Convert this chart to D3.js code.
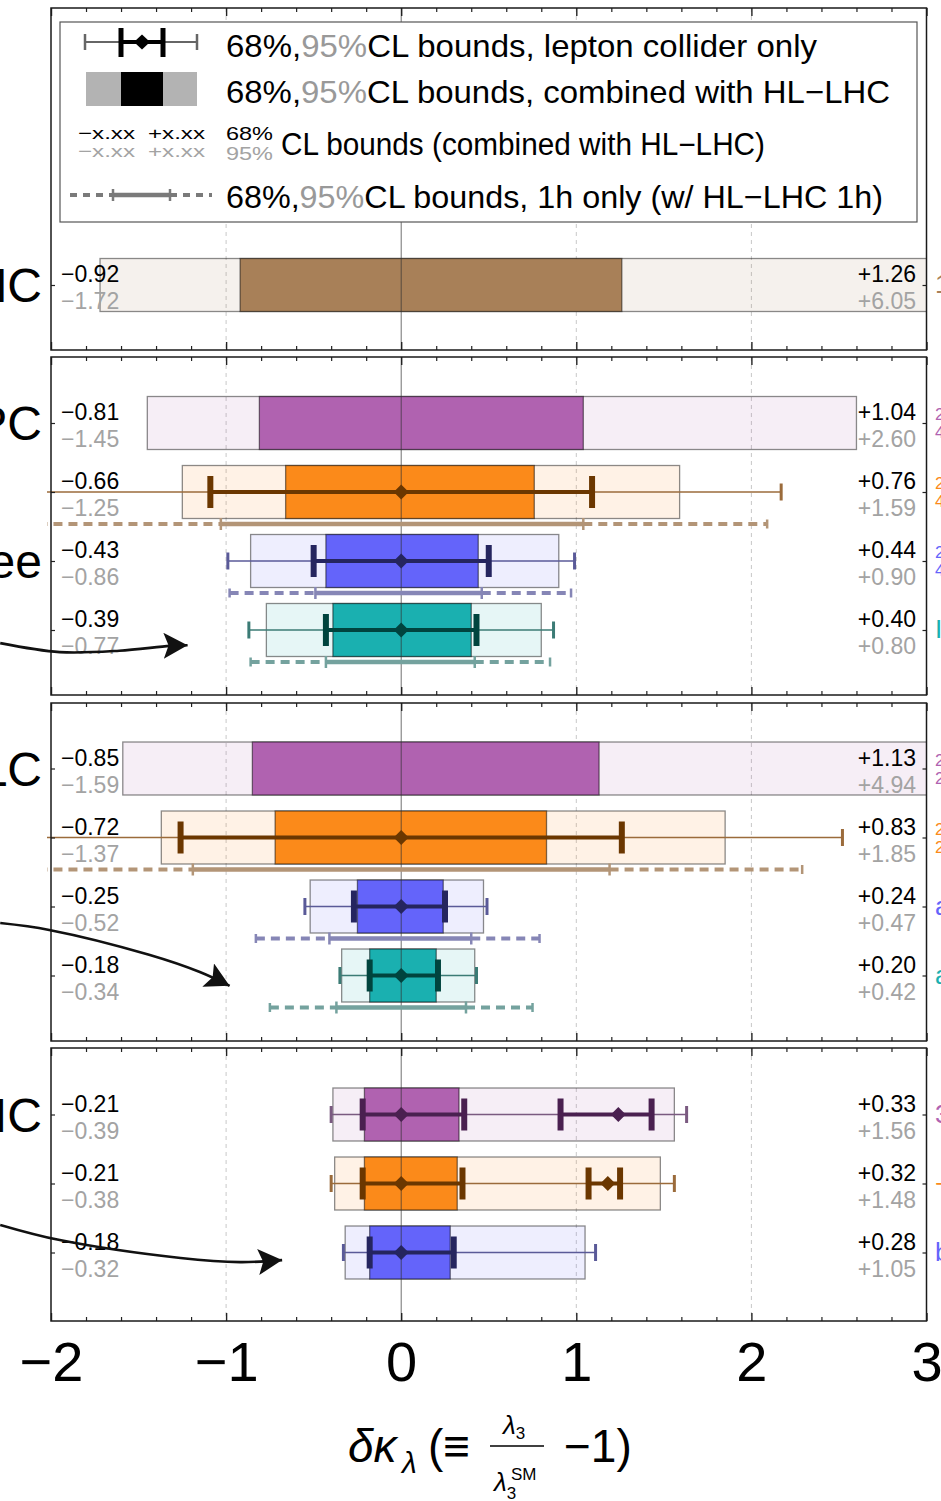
<!DOCTYPE html>
<html>
<head>
<meta charset="utf-8">
<script src="https://cdn.jsdelivr.net/npm/d3@7"></script>
<style>
body { margin: 0; background: #fff; }
svg { display: block; font-family: "Liberation Sans", Arial, sans-serif; }
</style>
</head>
<body>
<svg id="chart"></svg>
<script>
(function () {
var W = 941, H = 1501;

// ---- data ----
var rowPanel = [0, 1, 1, 1, 1, 2, 2, 2, 2, 3, 3, 3];
var rowSlot  = [0, 0, 1, 2, 3, 0, 1, 2, 3, 0, 1, 2];
var rowColor = ["brown", "purple", "orange", "blue", "teal", "purple", "orange", "blue", "teal", "purple", "orange", "blue"];

// combined with HL-LHC
var comb95Lo = [-1.72, -1.45, -1.25, -0.86, -0.77, -1.59, -1.37, -0.52, -0.34, -0.39, -0.38, -0.32];
var comb68Lo = [-0.92, -0.81, -0.66, -0.43, -0.39, -0.85, -0.72, -0.25, -0.18, -0.21, -0.21, -0.18];
var comb68Hi = [1.26, 1.04, 0.76, 0.44, 0.40, 1.13, 0.83, 0.24, 0.20, 0.33, 0.32, 0.28];
var comb95Hi = [6.05, 2.60, 1.59, 0.90, 0.80, 4.94, 1.85, 0.47, 0.42, 1.56, 1.48, 1.05];

// lepton collider only
var lep95 = [null, null, [-2.5, 2.17], [-0.99, 0.99], [-0.87, 0.87], null, [-2.5, 2.52], [-0.55, 0.49], [-0.35, 0.43], [-0.40, 1.63], [-0.40, 1.56], [-0.33, 1.11]];
var lep68 = [null, null, [[-1.09, 1.09]], [[-0.50, 0.50]], [[-0.43, 0.43]], null, [[-1.26, 1.26]], [[-0.27, 0.25]], [[-0.18, 0.21]],
             [[-0.22, 0.36], [0.91, 1.43]], [[-0.22, 0.35], [1.07, 1.25]], [[-0.18, 0.30]]];
var lepBest = [null, null, [0], [0], [0], null, [0], [0], [0], [0, 1.24], [0, 1.18], [0]];

// 1h only (95 lo, 68 lo, 68 hi, 95 hi)
var oneH = [null, null, [-2.5, -1.03, 1.04, 2.09], [-0.98, -0.49, 0.46, 0.97], [-0.86, -0.43, 0.42, 0.85], null,
            [-2.5, -1.19, 1.19, 2.29], [-0.83, -0.41, 0.40, 0.79], [-0.75, -0.37, 0.37, 0.75], null, null, null];

var sectionNames = ["HL\u2212LHC", "CEPC", "FCC\u2212ee", "ILC", "CLIC"];
var sectionRow = [0, 1, 3, 5, 9];

var runLabels = [["14TeV, 3ab\u207B\u00B9"], ["240GeV", "4ab\u207B\u00B9"], ["240GeV", "4ab\u207B\u00B9"], ["240GeV", "4ab\u207B\u00B9"], ["I"],
                 ["250GeV", "2ab\u207B\u00B9"], ["250GeV", "2ab\u207B\u00B9"], ["all runs"], ["all runs"],
                 ["380GeV"], ["+1.5TeV"], ["both"]];

var xTicks = [-2, -1, 0, 1, 2, 3];
var gridDashed = [-1, 1, 2];

// annotation arrows, [value, row slot] in panel units
var arrowPanel = [1, 2, 3];
var arrowPts = [
  [[-2.29, 3.19], [-1.95, 3.32], [-1.61, 3.30], [-1.32, 3.23], [-1.22, 3.22]],
  [[-2.29, 2.24], [-2.01, 2.34], [-1.44, 2.70], [-1.15, 2.95], [-0.98, 3.15]],
  [[-2.29, 1.60], [-1.95, 1.82], [-1.26, 2.08], [-0.92, 2.14], [-0.68, 2.11]]
];

// ---- styles ----
var fillCol = { brown: "#a88058", purple: "#b062b0", orange: "#fb8a1a", blue: "#6464fa", teal: "#1ab0b0" };
var errDark = { orange: "#6b3700", blue: "#25255f", teal: "#00443e", purple: "#4a2050" };
var errThin = { orange: "#9b6b3b", blue: "#5a5a98", teal: "#3b7b75", purple: "#7a5a80" };
var oneHCol = { orange: "#b39577", blue: "#8686b6", teal: "#74a29e" };
var grey95 = "#a3a3a3";

var panelBox = [[8, 350], [357, 695], [703, 1041], [1048, 1321]];
var firstRowY = [285, 423, 768.5, 1114.5];
var rowStep = 69, halfBar = 26.5;

var svg = d3.select("#chart").attr("width", W).attr("height", H);

var x = d3.scaleLinear().domain([-2, 3]).range([51, 926.5]);
var yP = firstRowY.map(function (y0) {
  return d3.scaleLinear().domain([0, 1]).range([y0, y0 + rowStep]);
});
function rowY(i) { return yP[rowPanel[i]](rowSlot[i]); }

var defs = svg.append("defs");
defs.append("clipPath").attr("id", "barclip").append("rect")
  .attr("x", x(-2)).attr("y", 0).attr("width", x(3) - x(-2)).attr("height", H);
defs.append("clipPath").attr("id", "lineclip").append("rect")
  .attr("x", x(-2) - 4).attr("y", 0).attr("width", x(3) - x(-2) + 8).attr("height", H);
defs.append("marker").attr("id", "head")
  .attr("markerUnits", "userSpaceOnUse")
  .attr("markerWidth", 26).attr("markerHeight", 28)
  .attr("refX", 24).attr("refY", 13).attr("orient", "auto")
  .append("path").attr("d", "M0,0 L24,13 L0,26 L5,13 z").attr("fill", "#111");

// dashed grid
panelBox.forEach(function (b) {
  svg.append("g").selectAll("line").data(gridDashed).join("line")
    .attr("x1", x).attr("x2", x).attr("y1", b[0]).attr("y2", b[1])
    .attr("stroke", "#c8c8c8").attr("stroke-width", 1).attr("stroke-dasharray", "4,4");
});

// boxes
var rows = d3.range(rowPanel.length);
var barG = svg.append("g").attr("clip-path", "url(#barclip)");
barG.selectAll("rect.light").data(rows).join("rect").attr("class", "light")
  .attr("x", function (i) { return x(comb95Lo[i]); })
  .attr("width", function (i) { return x(Math.min(comb95Hi[i], 3.2)) - x(comb95Lo[i]); })
  .attr("y", function (i) { return rowY(i) - halfBar; })
  .attr("height", halfBar * 2)
  .attr("fill", function (i) { return fillCol[rowColor[i]]; }).attr("fill-opacity", 0.11)
  .attr("stroke", "#000").attr("stroke-opacity", 0.45).attr("stroke-width", 1.3);
barG.selectAll("rect.dark").data(rows).join("rect").attr("class", "dark")
  .attr("x", function (i) { return x(comb68Lo[i]); })
  .attr("width", function (i) { return x(comb68Hi[i]) - x(comb68Lo[i]); })
  .attr("y", function (i) { return rowY(i) - halfBar; })
  .attr("height", halfBar * 2)
  .attr("fill", function (i) { return fillCol[rowColor[i]]; })
  .attr("stroke", "#000").attr("stroke-opacity", 0.5).attr("stroke-width", 1.3);

// zero line
panelBox.forEach(function (b) {
  svg.append("line").attr("x1", x(0)).attr("x2", x(0)).attr("y1", b[0]).attr("y2", b[1])
    .attr("stroke", "#333").attr("stroke-opacity", 0.7).attr("stroke-width", 1);
});

// lepton-only error bars and 1h-only lines
var errG = svg.append("g").attr("clip-path", "url(#lineclip)");
rows.forEach(function (i) {
  var y = rowY(i), c = rowColor[i];
  if (lep95[i]) {
    var lo = lep95[i][0], hi = lep95[i][1];
    errG.append("line").attr("x1", x(lo)).attr("x2", x(hi)).attr("y1", y).attr("y2", y)
      .attr("stroke", errThin[c]).attr("stroke-width", 1.6);
    [lo, hi].forEach(function (v) {
      if (v < -2) return;
      errG.append("line").attr("x1", x(v)).attr("x2", x(v)).attr("y1", y - 8.5).attr("y2", y + 8.5)
        .attr("stroke", errThin[c]).attr("stroke-width", 3);
    });
    lep68[i].forEach(function (seg) {
      errG.append("line").attr("x1", x(seg[0])).attr("x2", x(seg[1])).attr("y1", y).attr("y2", y)
        .attr("stroke", errDark[c]).attr("stroke-width", 4);
      seg.forEach(function (v) {
        errG.append("line").attr("x1", x(v)).attr("x2", x(v)).attr("y1", y - 16).attr("y2", y + 16)
          .attr("stroke", errDark[c]).attr("stroke-width", 6);
      });
    });
    lepBest[i].forEach(function (v) {
      var cx = x(v), s = 7.5;
      errG.append("path").attr("d", "M" + (cx - s) + "," + y + "L" + cx + "," + (y - s) + "L" + (cx + s) + "," + y + "L" + cx + "," + (y + s) + "Z")
        .attr("fill", errDark[c]);
    });
  }
  if (oneH[i]) {
    var h = oneH[i], yy = y + 32, col = oneHCol[c];
    errG.append("line").attr("x1", x(h[0])).attr("x2", x(h[1])).attr("y1", yy).attr("y2", yy)
      .attr("stroke", col).attr("stroke-width", 4).attr("stroke-dasharray", "9,6");
    errG.append("line").attr("x1", x(h[2])).attr("x2", x(h[3])).attr("y1", yy).attr("y2", yy)
      .attr("stroke", col).attr("stroke-width", 4).attr("stroke-dasharray", "9,6");
    errG.append("line").attr("x1", x(h[1])).attr("x2", x(h[2])).attr("y1", yy).attr("y2", yy)
      .attr("stroke", col).attr("stroke-width", 4.5);
    h.forEach(function (v, k) {
      if (v < -2) return;
      var hh = (k === 0 || k === 3) ? 4.5 : 6;
      errG.append("line").attr("x1", x(v)).attr("x2", x(v)).attr("y1", yy - hh).attr("y2", yy + hh)
        .attr("stroke", col).attr("stroke-width", 2.5);
    });
  }
});

// legend
var lg = svg.append("g");
lg.append("rect").attr("x", 60).attr("y", 22).attr("width", 857).attr("height", 200)
  .attr("fill", "#fff").attr("stroke", "#555").attr("stroke-width", 1.2);
lg.append("line").attr("x1", 85).attr("x2", 197).attr("y1", 42).attr("y2", 42).attr("stroke", "#666").attr("stroke-width", 2);
[85, 197].forEach(function (v) {
  lg.append("line").attr("x1", v).attr("x2", v).attr("y1", 34).attr("y2", 50).attr("stroke", "#666").attr("stroke-width", 2.5);
});
lg.append("line").attr("x1", 121).attr("x2", 163).attr("y1", 42).attr("y2", 42).attr("stroke", "#000").attr("stroke-width", 4);
[121, 163].forEach(function (v) {
  lg.append("line").attr("x1", v).attr("x2", v).attr("y1", 28).attr("y2", 57).attr("stroke", "#000").attr("stroke-width", 5);
});
lg.append("path").attr("d", "M134,42L142,34.5L150,42L142,49.5Z").attr("fill", "#000");
lg.append("rect").attr("x", 86).attr("y", 72).attr("width", 111).attr("height", 34).attr("fill", "#b3b3b3");
lg.append("rect").attr("x", 121).attr("y", 72).attr("width", 42).attr("height", 34).attr("fill", "#000");
[["\u2212x.xx", 78], ["+x.xx", 148]].forEach(function (d) {
  lg.append("text").attr("x", d[1]).attr("y", 139).attr("font-size", 17)
    .attr("textLength", 57).attr("lengthAdjust", "spacingAndGlyphs").attr("fill", "#000").text(d[0]);
  lg.append("text").attr("x", d[1]).attr("y", 157).attr("font-size", 17)
    .attr("textLength", 57).attr("lengthAdjust", "spacingAndGlyphs").attr("fill", grey95).text(d[0]);
});
lg.append("text").attr("x", 226).attr("y", 140).attr("font-size", 19)
  .attr("textLength", 47).attr("lengthAdjust", "spacingAndGlyphs").attr("fill", "#000").text("68%");
lg.append("text").attr("x", 226).attr("y", 160).attr("font-size", 19)
  .attr("textLength", 47).attr("lengthAdjust", "spacingAndGlyphs").attr("fill", grey95).text("95%");
lg.append("text").attr("x", 281).attr("y", 155).attr("font-size", 31)
  .attr("textLength", 484).attr("lengthAdjust", "spacingAndGlyphs")
  .text("CL bounds (combined with HL\u2212LHC)");
lg.append("line").attr("x1", 70).attr("x2", 113).attr("y1", 195).attr("y2", 195).attr("stroke", "#7a7a7a").attr("stroke-width", 4).attr("stroke-dasharray", "7,6");
lg.append("line").attr("x1", 170).attr("x2", 212).attr("y1", 195).attr("y2", 195).attr("stroke", "#7a7a7a").attr("stroke-width", 4).attr("stroke-dasharray", "7,6");
lg.append("line").attr("x1", 113).attr("x2", 170).attr("y1", 195).attr("y2", 195).attr("stroke", "#7a7a7a").attr("stroke-width", 4.5);
[113, 170].forEach(function (v) {
  lg.append("line").attr("x1", v).attr("x2", v).attr("y1", 189).attr("y2", 201).attr("stroke", "#7a7a7a").attr("stroke-width", 2.5);
});
[[57, 591, "CL bounds, lepton collider only"], [103, 664, "CL bounds, combined with HL\u2212LHC"], [208, 657, "CL bounds, 1h only (w/ HL\u2212LHC 1h)"]].forEach(function (d) {
  var t = lg.append("text").attr("x", 226).attr("y", d[0]).attr("font-size", 32)
    .attr("textLength", d[1]).attr("lengthAdjust", "spacingAndGlyphs");
  t.append("tspan").text("68%,");
  t.append("tspan").attr("fill", "#999").text("95%");
  t.append("tspan").text(d[2]);
});

// frames and ticks
var minorTicks = d3.range(-2, 3.001, 0.2).filter(function (v) { return Math.abs(v - Math.round(v)) > 1e-6; });
panelBox.forEach(function (b, p) {
  [[d3.axisBottom, b[1], -4], [d3.axisTop, b[0], -4]].forEach(function (a) {
    svg.append("g").attr("transform", "translate(0," + a[1] + ")")
      .call(a[0](x).tickValues(minorTicks).tickSize(a[2]).tickFormat(""))
      .call(function (g) { g.select(".domain").remove(); g.selectAll("line").attr("stroke", "#222").attr("stroke-width", 1.2); });
    svg.append("g").attr("transform", "translate(0," + a[1] + ")")
      .call(a[0](x).tickValues(xTicks).tickSize(a[2] * 2).tickFormat(""))
      .call(function (g) { g.select(".domain").remove(); g.selectAll("line").attr("stroke", "#222").attr("stroke-width", 1.4); });
  });
  var slots = d3.range(rowPanel.filter(function (q) { return q === p; }).length);
  svg.append("g").attr("transform", "translate(" + x(-2) + ",0)")
    .call(d3.axisLeft(yP[p]).tickValues(slots).tickSize(-4).tickFormat(""))
    .call(function (g) { g.select(".domain").remove(); g.selectAll("line").attr("stroke", "#222").attr("stroke-width", 1.2); });
  svg.append("g").attr("transform", "translate(" + x(3) + ",0)")
    .call(d3.axisRight(yP[p]).tickValues(slots).tickSize(-4).tickFormat(""))
    .call(function (g) { g.select(".domain").remove(); g.selectAll("line").attr("stroke", "#222").attr("stroke-width", 1.2); });
  svg.append("rect").attr("x", x(-2)).attr("y", b[0]).attr("width", x(3) - x(-2)).attr("height", b[1] - b[0])
    .attr("fill", "none").attr("stroke", "#1a1a1a").attr("stroke-width", 1.5);
});

// bottom tick labels
svg.append("g").attr("transform", "translate(0," + panelBox[3][1] + ")")
  .call(d3.axisBottom(x).tickValues(xTicks).tickSize(0).tickFormat(d3.format("d")))
  .call(function (g) {
    g.select(".domain").remove();
    g.selectAll("text").attr("font-size", 56).attr("font-family", "Liberation Sans, Arial, sans-serif")
      .attr("fill", "#000").attr("y", 60).attr("dy", 0);
  });

// value labels
var fmt = d3.format("+.2f");
var labG = svg.append("g").attr("font-size", 23);
rows.forEach(function (i) {
  var y = rowY(i);
  labG.append("text").attr("x", 61).attr("y", y - 3).attr("fill", "#000").text(fmt(comb68Lo[i]));
  labG.append("text").attr("x", 61).attr("y", y + 24).attr("fill", grey95).text(fmt(comb95Lo[i]));
  labG.append("text").attr("x", 916).attr("y", y - 3).attr("text-anchor", "end").attr("fill", "#000").text(fmt(comb68Hi[i]));
  labG.append("text").attr("x", 916).attr("y", y + 24).attr("text-anchor", "end").attr("fill", grey95).text(fmt(comb95Hi[i]));
  var rl = runLabels[i];
  rl.forEach(function (s, k) {
    var yy = rl.length === 1 ? y + 8 : y - 3 + k * 18;
    labG.append("text").attr("x", 935).attr("y", yy).attr("font-size", rl.length === 1 ? 26 : 17)
      .attr("fill", fillCol[rowColor[i]]).text(s);
  });
});

// section names (mostly off the left edge)
sectionNames.forEach(function (s, k) {
  svg.append("text").attr("x", 42).attr("y", rowY(sectionRow[k]) + 17).attr("text-anchor", "end")
    .attr("font-size", 48).attr("fill", "#000").text(s);
});

// axis title
var tg = svg.append("g").attr("fill", "#000");
tg.append("text").attr("x", 348).attr("y", 1462).attr("font-size", 46).attr("font-style", "italic").text("\u03B4\u03BA");
tg.append("text").attr("x", 402).attr("y", 1473).attr("font-size", 30).attr("font-style", "italic").text("\u03BB");
tg.append("text").attr("x", 428).attr("y", 1462).attr("font-size", 46).text("(\u2261");
tg.append("line").attr("x1", 490).attr("x2", 544).attr("y1", 1446).attr("y2", 1446).attr("stroke", "#000").attr("stroke-width", 1.5);
var num = tg.append("text").attr("x", 503).attr("y", 1434).attr("font-size", 26);
num.append("tspan").attr("font-style", "italic").text("\u03BB");
num.append("tspan").attr("font-size", 17).attr("dy", 5).text("3");
var den = tg.append("text").attr("x", 494).attr("y", 1491).attr("font-size", 26);
den.append("tspan").attr("font-style", "italic").text("\u03BB");
den.append("tspan").attr("font-size", 17).attr("dy", 8).text("3");
tg.append("text").attr("x", 511).attr("y", 1480).attr("font-size", 17).text("SM");
tg.append("text").attr("x", 564).attr("y", 1462).attr("font-size", 46).text("\u22121)");

// arrows
var arrowLine = d3.line().curve(d3.curveCatmullRom);
arrowPts.forEach(function (pts, k) {
  var ys = yP[arrowPanel[k]];
  svg.append("path")
    .attr("d", arrowLine(pts.map(function (p) { return [x(p[0]), ys(p[1])]; })))
    .attr("fill", "none").attr("stroke", "#111").attr("stroke-width", 2.6)
    .attr("marker-end", "url(#head)");
});
})();
</script>
</body>
</html>
